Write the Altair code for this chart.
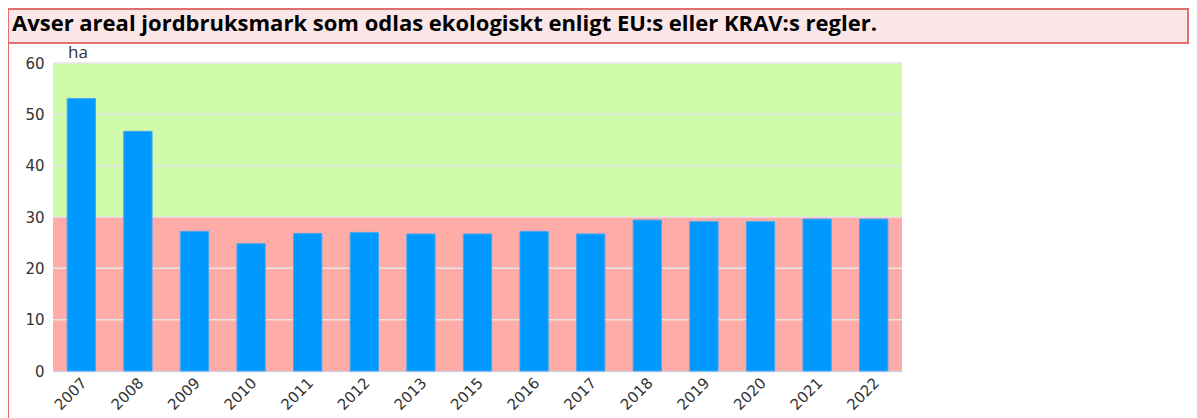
import altair as alt
import pandas as pd

title_text = "Avser areal jordbruksmark som odlas ekologiskt enligt EU:s eller KRAV:s regler."
unit_label = "ha"
years = ["2007", "2008", "2009", "2010", "2011", "2012", "2013", "2015",
         "2016", "2017", "2018", "2019", "2020", "2021", "2022"]
values = [53.1, 46.7, 27.2, 24.8, 26.8, 27.0, 26.7, 26.7,
          27.2, 26.7, 29.4, 29.1, 29.1, 29.6, 29.6]
zone_low = [0, 30]
zone_high = [30, 60]
zone_color = ["#fdaca8", "#d0fbaa"]
y_ticks = [0, 10, 20, 30, 40, 50, 60]
grid_values = [10, 20, 30, 40, 50, 60]

W, H = 849, 308

bars_df = pd.DataFrame({"year": years, "value": values})
zones_df = pd.DataFrame({"lo": zone_low, "hi": zone_high, "c": zone_color})
grid_df = pd.DataFrame({"g": grid_values})
title_df = pd.DataFrame({"t": [title_text]})
unit_df = pd.DataFrame({"t": [unit_label]})

yscale = alt.Scale(domain=[0, 60], nice=False)
yaxis = alt.Axis(title=None, values=y_ticks, grid=False, domain=False,
                 ticks=False, labelFont="DejaVu Sans", labelFontSize=15,
                 labelColor="#333333", labelPadding=9)

zones = alt.Chart(zones_df).mark_rect().encode(
    x=alt.value(0), x2=alt.value(W),
    y=alt.Y("lo:Q", scale=yscale, axis=yaxis),
    y2="hi:Q",
    color=alt.Color("c:N", scale=None),
)

grid = alt.Chart(grid_df).mark_rule(color="#e6e6e6", strokeWidth=1.5).encode(
    x=alt.value(0), x2=alt.value(W),
    y=alt.Y("g:Q", scale=yscale, axis=yaxis),
)

bars = alt.Chart(bars_df).mark_bar(color="#0099ff", stroke="#4aa6ee", strokeWidth=1).encode(
    x=alt.X("year:N", sort=years,
            scale=alt.Scale(paddingInner=0.5, paddingOuter=0.25),
            axis=alt.Axis(title=None, labelAngle=-45, ticks=False,
                          domainColor="#ccd6eb", domainWidth=1.5,
                          labelFont="DejaVu Sans", labelFontSize=15,
                          labelColor="#333333", labelPadding=4, labelOffset=-2)),
    y=alt.Y("value:Q", scale=yscale, axis=yaxis),
)

unit = alt.Chart(unit_df).mark_text(
    align="left", baseline="alphabetic", font="Open Sans", fontSize=17, color="#333333"
).encode(x=alt.value(15), y=alt.value(-5), text="t:N")

title_box = alt.Chart(title_df).mark_rect(
    fill="#fae6e6", stroke="#e07070", strokeWidth=2
).encode(x=alt.value(-45), x2=alt.value(1135), y=alt.value(-54), y2=alt.value(-20))

left_line = alt.Chart(title_df).mark_rule(color="#e07070", strokeWidth=2).encode(
    x=alt.value(-45), y=alt.value(-20), y2=alt.value(H + 60)
)

title = alt.Chart(title_df).mark_text(
    align="left", baseline="alphabetic", font="Open Sans", fontWeight="bold",
    fontSize=22, color="#000000"
).encode(x=alt.value(-41), y=alt.value(-32), text="t:N")

chart = alt.layer(zones, grid, bars, unit, left_line, title_box, title).properties(
    width=W, height=H,
    autosize=alt.AutoSizeParams(type="none"),
    padding={"left": 45, "top": 55, "right": 287, "bottom": 47},
).configure_view(stroke=None)

chart.save("out.html", embed_options={"renderer": "svg", "actions": False})
